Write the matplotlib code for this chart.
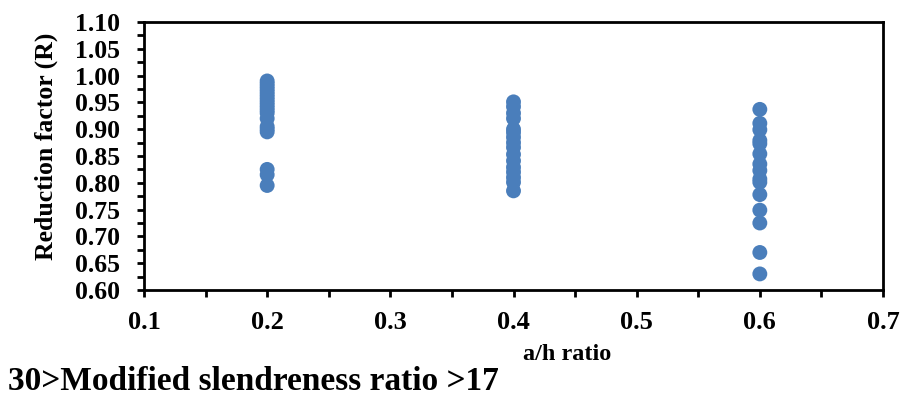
import matplotlib
matplotlib.use("Agg")
import matplotlib.pyplot as plt
from matplotlib.ticker import MultipleLocator, FormatStrFormatter

# a/h ratio groups and reduction factors measured for each group
ah_02 = [0.990, 0.985, 0.980, 0.975, 0.970, 0.965, 0.960, 0.955, 0.950,
         0.945, 0.940, 0.935, 0.930, 0.920, 0.905, 0.900, 0.895,
         0.825, 0.815, 0.795]
ah_04 = [0.951, 0.942, 0.930, 0.920, 0.900, 0.894, 0.885, 0.875, 0.866,
         0.853, 0.841, 0.829, 0.820, 0.810, 0.801, 0.785]
ah_06 = [0.937, 0.911, 0.899, 0.879, 0.873, 0.854, 0.835, 0.823, 0.807,
         0.801, 0.778, 0.749, 0.725, 0.670, 0.630]

groups = {0.2: ah_02, 0.4: ah_04, 0.6: ah_06}

x_vals = []
r_vals = []
for ratio, vals in groups.items():
    x_vals += [ratio] * len(vals)
    r_vals += vals

plt.rcParams["font.family"] = ["Liberation Serif", "DejaVu Serif"]
plt.rcParams["font.weight"] = "bold"

fig = plt.figure(figsize=(9.04, 3.97), dpi=100)
ax = fig.add_axes([144 / 904, 1 - 290 / 397, (883 - 144) / 904, (290 - 22) / 397])

ax.scatter(x_vals, r_vals, s=115, color="#4A7EBB", edgecolors="none", zorder=3)

ax.set_xlim(0.1, 0.7)
ax.set_ylim(0.60, 1.10)
ax.xaxis.set_major_locator(MultipleLocator(0.1))
ax.xaxis.set_minor_locator(MultipleLocator(0.05))
ax.yaxis.set_major_locator(MultipleLocator(0.05))
ax.yaxis.set_minor_locator(MultipleLocator(0.025))
ax.xaxis.set_major_formatter(FormatStrFormatter("%.1f"))
ax.yaxis.set_major_formatter(FormatStrFormatter("%.2f"))

for side in ax.spines.values():
    side.set_linewidth(2.0)
ax.tick_params(axis="both", which="both", direction="out", width=2.0,
               length=5, top=False, right=False)
ax.tick_params(axis="y", which="major", labelsize=18.5, pad=12)
ax.tick_params(axis="x", which="major", labelsize=19, pad=10)

ax.set_ylabel("Reduction factor (R)", fontsize=18.5, fontweight="bold",
              va="center")
ax.yaxis.set_label_coords(-0.132, 0.535)
fig.text(567 / 904, 1 - 354 / 397, "a/h ratio", fontsize=17.5, fontweight="bold",
         ha="center", va="center")
fig.text(8 / 904, 1 - 381 / 397, "30>Modified slendreness ratio >17",
         fontsize=24, fontweight="bold", ha="left", va="center")

fig.savefig("out.png", dpi=100)
